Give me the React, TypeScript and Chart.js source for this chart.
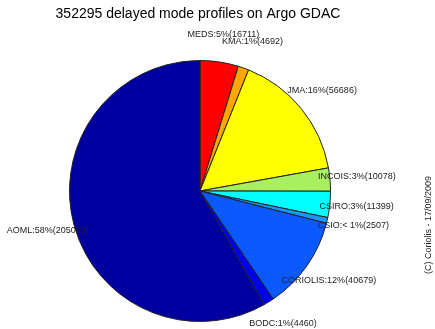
import React, { useEffect, useRef } from "react";
import { Chart, registerables } from "chart.js";

Chart.register(...registerables);

const centers = ["MEDS", "KMA", "JMA", "INCOIS", "CSIRO", "CSIO", "CORIOLIS", "BODC", "AOML"];
const profiles = [16711, 4692, 56686, 10078, 11399, 2507, 40679, 4460, 205083];
const percentLabels = ["5%", "1%", "16%", "3%", "3%", "< 1%", "12%", "1%", "58%"];
const sliceColors = ["#FF0000", "#FFA500", "#FFFF00", "#A8F060", "#00FFFF", "#1E96FF", "#0A5AFF", "#0000F0", "#0000A0"];
const titleText = "352295 delayed mode profiles on Argo GDAC";
const creditText = "(C) Coriolis - 17/09/2009";

const labelPlugin = {
  id: "sliceLabels",
  afterDraw(chart: any) {
    const ctx = chart.ctx;
    const meta = chart.getDatasetMeta(0);
    ctx.save();
    ctx.font = '9px "Liberation Sans", Arial, sans-serif';
    ctx.fillStyle = "#222";
    ctx.textAlign = "center";
    ctx.textBaseline = "middle";
    meta.data.forEach((arc: any, i: number) => {
      const p = arc.getProps(["x", "y", "startAngle", "endAngle", "outerRadius"], true);
      const mid = (p.startAngle + p.endAngle) / 2;
      const r = p.outerRadius + 27;
      const x = p.x + Math.cos(mid) * r;
      const y = p.y + Math.sin(mid) * r - 1;
      ctx.fillText(`${centers[i]}:${percentLabels[i]}(${profiles[i]})`, x, y);
    });
    ctx.font = '14px "Liberation Sans", Arial, sans-serif';
    ctx.fillStyle = "#000";
    ctx.fillText(titleText, 198, 14);
    ctx.translate(429, 225);
    ctx.rotate(-Math.PI / 2);
    ctx.font = '9px "Liberation Sans", Arial, sans-serif';
    ctx.fillStyle = "#222";
    ctx.fillText(creditText, 0, 0);
    ctx.restore();
  },
};

export default function App() {
  const ref = useRef<HTMLCanvasElement>(null);
  useEffect(() => {
    if (!ref.current) return;
    const chart = new Chart(ref.current, {
      type: "pie",
      data: {
        labels: centers,
        datasets: [
          {
            data: profiles,
            backgroundColor: sliceColors,
            borderColor: "#222",
            borderWidth: 1,
          },
        ],
      },
      options: {
        animation: false,
        responsive: false,
        events: [],
        layout: { padding: { top: 60, bottom: 7, left: 69, right: 104 } },
        plugins: {
          legend: { display: false },
          title: { display: false },
          tooltip: { enabled: false },
        },
      },
      plugins: [labelPlugin],
    });
    return () => chart.destroy();
  }, []);
  return (
    <div style={{ position: "absolute", left: 0, top: 0, width: 435, height: 329, background: "#fff" }}>
      <canvas ref={ref} width={435} height={329} style={{ width: 435, height: 329 }} />
    </div>
  );
}
